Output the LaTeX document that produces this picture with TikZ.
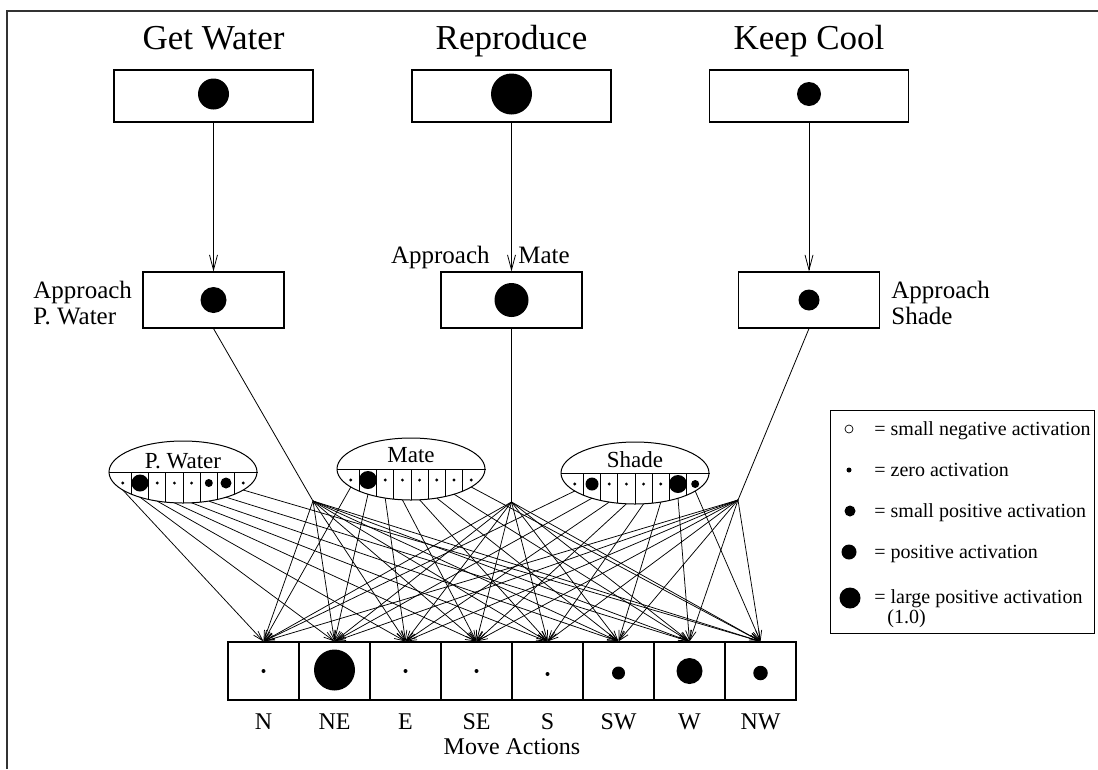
\documentclass[tikz,border=0pt]{standalone}
\usepackage{fontspec}
\setmainfont{Liberation Serif}
\usetikzlibrary{arrows.meta,calc,shapes.geometric}
\begin{document}
\begin{tikzpicture}[x=1pt,y=-1pt,
  line width=0.8pt,
  frame/.style={line width=1.6pt, black!80},
  drivebox/.style={draw, line width=1.1pt, rectangle, minimum width=199pt, minimum height=52pt, inner sep=0pt},
  approachbox/.style={draw, line width=1.1pt, rectangle, minimum width=141pt, minimum height=56pt, inner sep=0pt},
  actbox/.style={draw, line width=1.1pt, rectangle, minimum width=71pt, minimum height=58pt, inner sep=0pt},
  sensor/.style={draw, line width=1pt, ellipse, minimum width=148pt, minimum height=62pt, inner sep=0pt},
  act/.style={circle, fill=black, inner sep=0pt, minimum size=#1},
  conn/.style={line width=0.75pt, -{Straight Barb[length=10pt,width=6pt]}},
  drive/.style={line width=0.8pt, -{Straight Barb[length=15pt,width=8pt]}},
  headfont/.style={font=\fontsize{35}{40}\selectfont, inner sep=0pt},
  labfont/.style={font=\fontsize{25}{25}\selectfont, inner sep=0pt},
  ellfont/.style={font=\fontsize{23}{23}\selectfont, inner sep=0pt},
  actfont/.style={font=\fontsize{24}{24}\selectfont, inner sep=0pt},
  keyfont/.style={font=\fontsize{20}{20}\selectfont, inner sep=0pt, anchor=base west},
]
\useasboundingbox (0,0) rectangle (1098,769);

% outer frame
\draw[frame] (7,769) -- (7,11) -- (1098,11);

% drive level
\foreach \n/\x/\t/\d in {gw/213.5/Get Water/31pt, rp/511.5/Reproduce/41pt, kc/809/Keep Cool/24pt} {
  \node[headfont, anchor=base] (\n-t) at (\x,49) {\t};
  \node[drivebox] (\n) at (\x,96) {};
  \node[act=\d] (\n-d) at (\x,94) {};
}

% approach behaviours
\node[approachbox] (agw) at (213.5,300) {};
\node[act=26pt] (agw-d) at (213.5,300) {};
\node[approachbox] (arp) at (511.5,300) {};
\node[act=34pt] (arp-d) at (511.5,300) {};
\node[approachbox] (akc) at (809,300) {};
\node[act=21pt] (akc-d) at (809,300) {};

\node[labfont, anchor=base west] (agw-l1) at (33,298) {Approach};
\node[labfont, anchor=base west] (agw-l2) at (33,324) {P. Water};
\node[labfont, anchor=base east] (arp-l1) at (490,263) {Approach};
\node[labfont, anchor=base west] (arp-l2) at (518,263) {Mate};
\node[labfont, anchor=base west] (akc-l1) at (891,298) {Approach};
\node[labfont, anchor=base west] (akc-l2) at (891,324) {Shade};

\draw[drive] (gw.south) -- (agw.north);
\draw[drive] (rp.south) -- (arp.north);
\draw[drive] (kc.south) -- (akc.north);

% fan-out points
\coordinate (j1) at (313,501);
\coordinate (j2) at (511.5,502);
\coordinate (j3) at (738,500);
\draw (agw.south) -- (j1);
\draw (arp.south) -- (j2);
\draw (akc.south) -- (j3);

% sensor ellipses with eight direction cells
\foreach \n/\cx/\cy/\t/\ty in {pw/183/472/P. Water/468, mt/411/469/Mate/462, sh/635/473/Shade/467} {
  \node[sensor] (\n) at (\cx,\cy) {};
  \draw (\n.west) -- (\n.east);
  \node[ellfont, anchor=base] (\n-t) at (\cx,\ty) {\t};
  \foreach \dx/\dy in {-51.6/22.2, -34.4/27.4, -17.2/30.1, 0/31, 17.2/30.1, 34.4/27.4, 51.6/22.2}
    \draw[line width=0.8pt] ($(\n)+(\dx,0)$) -- ($(\n)+(\dx,\dy)$);
  \foreach \i/\dx/\dy in {1/-60.2/18.0, 2/-43/25.2, 3/-25.8/29.1, 4/-8.6/30.8, 5/8.6/30.8, 6/25.8/29.1, 7/43/25.2, 8/60.2/18.0}
    \coordinate (\n-s\i) at ($(\n)+(\dx,\dy)$);
}
\foreach \i/\d in {1/3.2, 2/17, 3/3.2, 4/3.2, 5/3.2, 6/8, 7/11, 8/3.2}
  \node[act=\d pt] (pw-d\i) at ($(pw)+({(\i-4.5)*17.2},11)$) {};
\foreach \i/\d in {1/3.2, 2/18, 3/3.2, 4/3.2, 5/3.2, 6/3.2, 7/3.2, 8/3.2}
  \node[act=\d pt] (mt-d\i) at ($(mt)+({(\i-4.5)*17.2},11)$) {};
\foreach \i/\d in {1/3.2, 2/13, 3/3.2, 4/3.2, 5/3.2, 6/3.2, 7/18, 8/8}
  \node[act=\d pt] (sh-d\i) at ($(sh)+({(\i-4.5)*17.2},11)$) {};

% move actions
\foreach \i/\lab/\d/\dy in {1/N/4/0, 2/NE/41/-1, 3/E/4/0, 4/SE/4/0, 5/S/4/3, 6/SW/13/2, 7/W/26/0, 8/NW/14.5/2} {
  \node[actbox] (a\i) at ({228+35.5+71*(\i-1)},671) {};
  \node[act=\d pt] (a\i-d) at ($(a\i)+(0,\dy)$) {};
  \node[actfont, anchor=base] (a\i-t) at ($(a\i)+(0,58)$) {\lab};
}
\node[actfont, anchor=base] (moves) at (512,754) {Move Actions};

% connections into the actions
\foreach \src in {pw,mt,sh}
  \foreach \i in {1,...,8}
    \draw[conn] (\src-s\i) -- (a\i.north);
\foreach \j in {j1,j2,j3}
  \foreach \i in {1,...,8}
    \draw[conn] (\j) -- (a\i.north);

% key
\node[draw, line width=1.1pt, rectangle, minimum width=264pt, minimum height=223pt, inner sep=0pt, anchor=north west] (key) at (830,410) {};
\node[circle, draw, line width=0.7pt, minimum size=8pt, inner sep=0pt] (k1) at (849,429) {};
\node[act=5pt] (k2) at (849,470) {};
\node[act=11pt] (k3) at (850,511) {};
\node[act=15pt] (k4) at (849,552) {};
\node[act=21pt] (k5) at (850,598) {};
\node[keyfont] (k1-t) at (874,435) {= small negative activation};
\node[keyfont] (k2-t) at (874,476) {= zero activation};
\node[keyfont] (k3-t) at (874,517) {= small positive activation};
\node[keyfont] (k4-t) at (874,558) {= positive activation};
\node[keyfont] (k5-t) at (874,603) {= large positive activation};
\node[keyfont] (k5-t2) at (887,623) {(1.0)};
\end{tikzpicture}
\end{document}
